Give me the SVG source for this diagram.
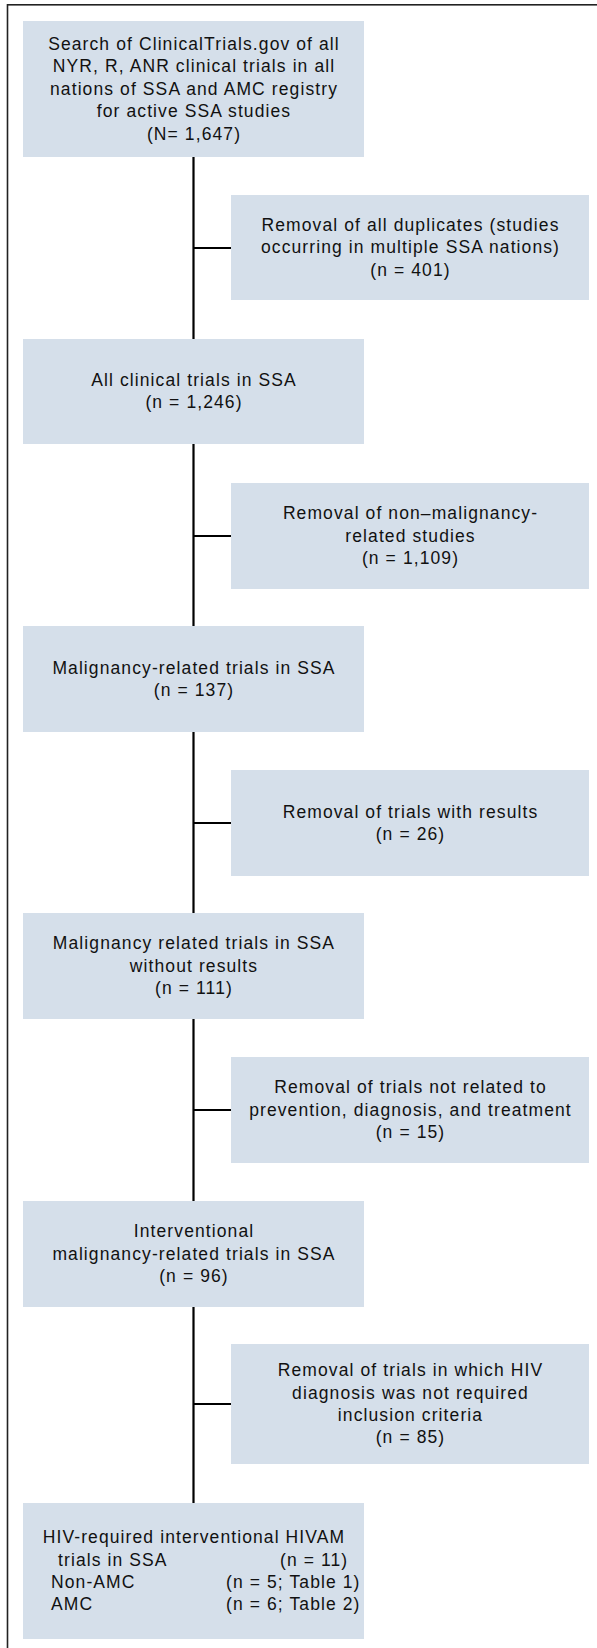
<svg xmlns="http://www.w3.org/2000/svg" width="597" height="1648" viewBox="0 0 597 1648">
<style>
.box{fill:#d5dfea;stroke:none}
.t{font-family:"Liberation Sans",Arial,sans-serif;font-size:17.5px;fill:#111;letter-spacing:1.1px}
.c{text-anchor:middle}
.ln{stroke:#000;stroke-width:2.2;fill:none}
.frame{stroke:#222;stroke-width:1.6;fill:none}
</style>
<rect class="frame" x="7.5" y="4.8" width="600" height="1660"/>
<g id="connectors">
<path class="ln" d="M193.5 157V1503M193.5 248H231M193.5 536H231M193.5 823H231M193.5 1110H231M193.5 1404H231"/>
</g>
<g id="n1">
<rect class="box" x="23" y="21" width="341" height="136"/>
<text class="t c" x="194" y="50">Search of ClinicalTrials.gov of all</text>
<text class="t c" x="194" y="72.4">NYR, R, ANR clinical trials in all</text>
<text class="t c" x="194" y="94.7">nations of SSA and AMC registry</text>
<text class="t c" x="194" y="117.1">for active SSA studies</text>
<text class="t c" x="194" y="139.5">(N= 1,647)</text>
</g>
<g id="n2">
<rect class="box" x="231" y="195" width="358" height="105"/>
<text class="t c" x="410.5" y="230.8">Removal of all duplicates (studies</text>
<text class="t c" x="410.5" y="253.2">occurring in multiple SSA nations)</text>
<text class="t c" x="410.5" y="275.6">(n = 401)</text>
</g>
<g id="n3">
<rect class="box" x="23" y="339" width="341" height="105"/>
<text class="t c" x="194" y="386">All clinical trials in SSA</text>
<text class="t c" x="194" y="408.4">(n = 1,246)</text>
</g>
<g id="n4">
<rect class="box" x="231" y="483" width="358" height="106"/>
<text class="t c" x="410.5" y="519.3">Removal of non–malignancy-</text>
<text class="t c" x="410.5" y="541.7">related studies</text>
<text class="t c" x="410.5" y="564.1">(n = 1,109)</text>
</g>
<g id="n5">
<rect class="box" x="23" y="626" width="341" height="106"/>
<text class="t c" x="194" y="673.5">Malignancy-related trials in SSA</text>
<text class="t c" x="194" y="695.9">(n = 137)</text>
</g>
<g id="n6">
<rect class="box" x="231" y="770" width="358" height="106"/>
<text class="t c" x="410.5" y="817.5">Removal of trials with results</text>
<text class="t c" x="410.5" y="839.9">(n = 26)</text>
</g>
<g id="n7">
<rect class="box" x="23" y="913" width="341" height="106"/>
<text class="t c" x="194" y="949.3">Malignancy related trials in SSA</text>
<text class="t c" x="194" y="971.7">without results</text>
<text class="t c" x="194" y="994.1">(n = 111)</text>
</g>
<g id="n8">
<rect class="box" x="231" y="1057" width="358" height="106"/>
<text class="t c" x="410.5" y="1093.3">Removal of trials not related to</text>
<text class="t c" x="410.5" y="1115.7">prevention, diagnosis, and treatment</text>
<text class="t c" x="410.5" y="1138.1">(n = 15)</text>
</g>
<g id="n9">
<rect class="box" x="23" y="1201" width="341" height="106"/>
<text class="t c" x="194" y="1237.3">Interventional</text>
<text class="t c" x="194" y="1259.7">malignancy-related trials in SSA</text>
<text class="t c" x="194" y="1282.1">(n = 96)</text>
</g>
<g id="n10">
<rect class="box" x="231" y="1344" width="358" height="120"/>
<text class="t c" x="410.5" y="1376.1">Removal of trials in which HIV</text>
<text class="t c" x="410.5" y="1398.5">diagnosis was not required</text>
<text class="t c" x="410.5" y="1420.9">inclusion criteria</text>
<text class="t c" x="410.5" y="1443.3">(n = 85)</text>
</g>
<g id="n11">
<rect class="box" x="23" y="1503" width="341" height="136"/>
<text class="t c" x="194" y="1543.1">HIV-required interventional HIVAM</text>
<text class="t" x="58" y="1565.5">trials in SSA</text>
<text class="t" x="280" y="1565.5">(n = 11)</text>
<text class="t" x="51" y="1587.9">Non-AMC</text>
<text class="t" x="226" y="1587.9">(n = 5; Table 1)</text>
<text class="t" x="51" y="1610.3">AMC</text>
<text class="t" x="226" y="1610.3">(n = 6; Table 2)</text>
</g>
</svg>
